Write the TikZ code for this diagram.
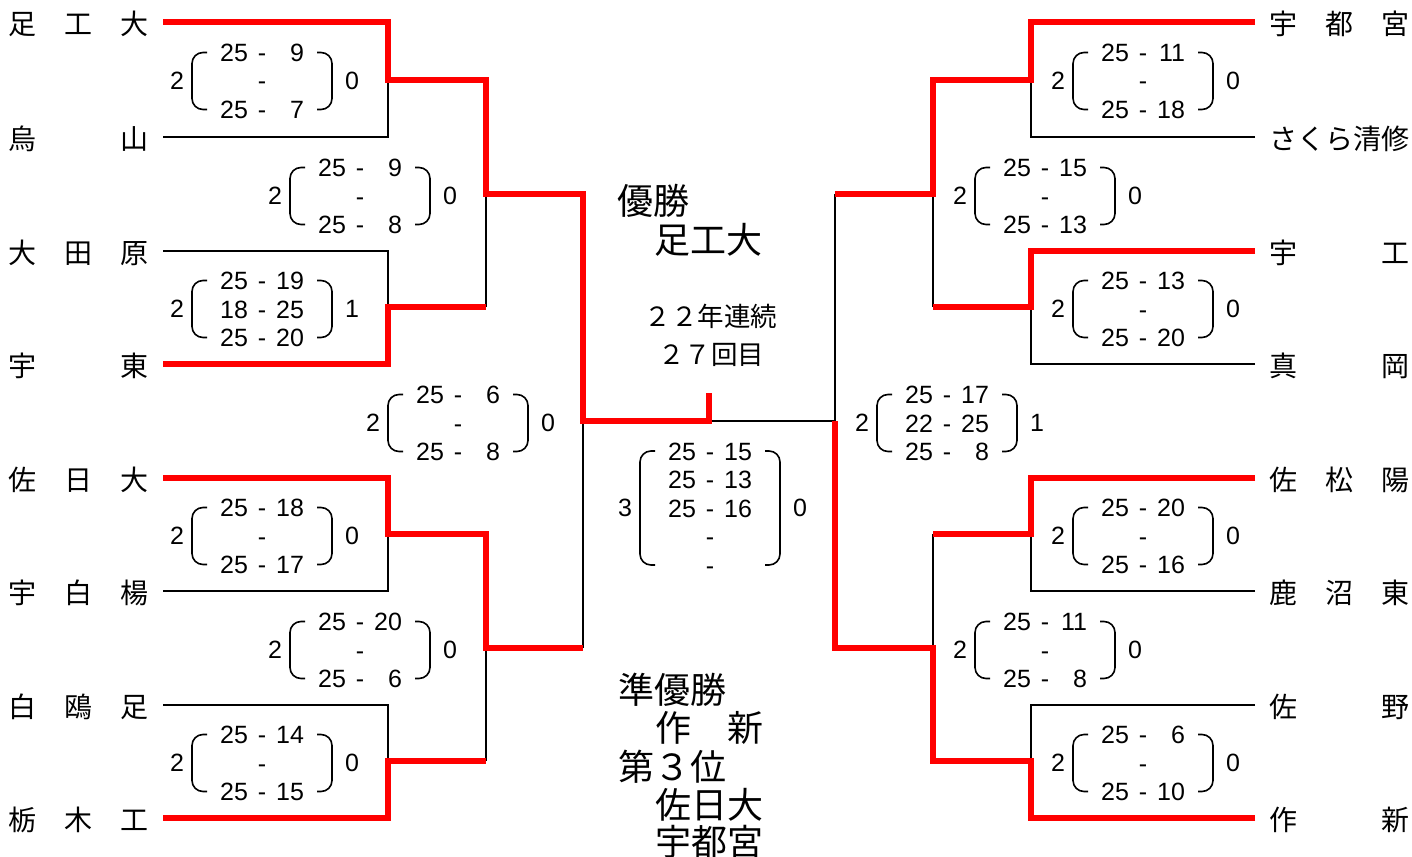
\documentclass[tikz,border=0pt]{standalone}
\usepackage{fontspec}
\setmainfont{Liberation Sans}
\newfontfamily\jp{Noto Sans CJK JP}
\newcommand\srow[2]{\strut\makebox[28pt][r]{#1}\hspace{9.8pt}\makebox[8.4pt]{-}\hspace{9.8pt}\makebox[28pt][r]{#2}}
% #1 name, #2 cx, #3 cy, #4 number of rows, #5 left sets, #6 right sets, #7 rows
\newcommand\scoreblock[7]{%
  \pgfmathsetmacro\hh{(#4-1)*14.25}%
  \node[sc] (#1) at (#2,{#3+3.3}) {#7};
  \node[sc] (#1-l) at ({#2-85},#3) {#5};
  \node[sc] (#1-r) at ({#2+90},#3) {#6};
  \draw[paren] ({#2-55},{#3-\hh}) -- ({#2-70},{#3-\hh}) -- ({#2-70},{#3+\hh}) -- ({#2-55},{#3+\hh});
  \draw[paren] ({#2+55},{#3-\hh}) -- ({#2+70},{#3-\hh}) -- ({#2+70},{#3+\hh}) -- ({#2+55},{#3+\hh});
}
\tikzset{
  win/.style={draw=red, line width=6pt, line join=miter},
  lose/.style={draw=black, line width=2pt},
  paren/.style={draw=black, line width=1.6pt, rounded corners=11pt},
  sc/.style={font=\fontsize{25}{28.5}\selectfont, inner sep=0pt, align=center},
  team/.style={font=\jp\fontsize{28}{28}\selectfont, inner sep=0pt, anchor=west},
  big/.style={font=\jp\fontsize{36}{36}\selectfont, inner sep=0pt, anchor=west},
  mid/.style={font=\jp\fontsize{26.5}{26.5}\selectfont, inner sep=0pt},
}
\begin{document}
\begin{tikzpicture}[x=1pt,y=-1pt]
\useasboundingbox (0,0) rectangle (1412,856);
\fill[white] (0,0) rectangle (1412,856);

% team names left
\node[team] (t1) at (8,24) {足　工　大};
\node[team] (t2) at (8,139) {烏　　　山};
\node[team] (t3) at (8,253) {大　田　原};
\node[team] (t4) at (8,366) {宇　　　東};
\node[team] (t5) at (8,480) {佐　日　大};
\node[team] (t6) at (8,593) {宇　白　楊};
\node[team] (t7) at (8,707) {白　鴎　足};
\node[team] (t8) at (8,820) {栃　木　工};
% team names right
\node[team] (t9) at (1269,24) {宇　都　宮};
\node[team] (t10) at (1269,139) {さくら清修};
\node[team] (t11) at (1269,253) {宇　　　工};
\node[team] (t12) at (1269,366) {真　　　岡};
\node[team] (t13) at (1269,480) {佐　松　陽};
\node[team] (t14) at (1269,593) {鹿　沼　東};
\node[team] (t15) at (1269,707) {佐　　　野};
\node[team] (t16) at (1269,820) {作　　　新};

% losing (black) lines
\draw[lose] (163,137) -- (388,137) -- (388,80);
\draw[lose] (163,251) -- (388,251) -- (388,307);
\draw[lose] (486,194) -- (486,307);
\draw[lose] (163,591) -- (388,591) -- (388,534);
\draw[lose] (163,705) -- (388,705) -- (388,761);
\draw[lose] (486,648) -- (486,761);
\draw[lose] (583,421) -- (583,648);
\draw[lose] (709,421) -- (835,421);
\draw[lose] (1255,137) -- (1031,137) -- (1031,80);
\draw[lose] (1255,364) -- (1031,364) -- (1031,307);
\draw[lose] (933,194) -- (933,307);
\draw[lose] (1255,591) -- (1031,591) -- (1031,534);
\draw[lose] (1255,705) -- (1031,705) -- (1031,761);
\draw[lose] (933,534) -- (933,648);
\draw[lose] (835,194) -- (835,421);

% winning (red) lines
\draw[win] (163,22) -- (388,22) -- (388,80) -- (486,80) -- (486,194) -- (583,194) -- (583,421) -- (709,421) -- (709,393);
\draw[win] (163,364) -- (388,364) -- (388,307) -- (486,307);
\draw[win] (163,478) -- (388,478) -- (388,534) -- (486,534) -- (486,648) -- (583,648);
\draw[win] (163,818) -- (388,818) -- (388,761) -- (486,761);
\draw[win] (1255,22) -- (1031,22) -- (1031,80) -- (933,80) -- (933,194) -- (835,194);
\draw[win] (1255,251) -- (1031,251) -- (1031,307) -- (933,307);
\draw[win] (1255,478) -- (1031,478) -- (1031,534) -- (933,534);
\draw[win] (1255,818) -- (1031,818) -- (1031,761) -- (933,761) -- (933,648) -- (835,648) -- (835,421);

% score blocks left
\scoreblock{b1}{262}{81}{3}{2}{0}{\srow{25}{9}\\\srow{}{}\\\srow{25}{7}}
\scoreblock{b2}{360}{196}{3}{2}{0}{\srow{25}{9}\\\srow{}{}\\\srow{25}{8}}
\scoreblock{b3}{262}{309}{3}{2}{1}{\srow{25}{19}\\\srow{18}{25}\\\srow{25}{20}}
\scoreblock{b4}{458}{423}{3}{2}{0}{\srow{25}{6}\\\srow{}{}\\\srow{25}{8}}
\scoreblock{b5}{262}{536}{3}{2}{0}{\srow{25}{18}\\\srow{}{}\\\srow{25}{17}}
\scoreblock{b6}{360}{650}{3}{2}{0}{\srow{25}{20}\\\srow{}{}\\\srow{25}{6}}
\scoreblock{b7}{262}{763}{3}{2}{0}{\srow{25}{14}\\\srow{}{}\\\srow{25}{15}}
% score blocks right
\scoreblock{r1}{1143}{81}{3}{2}{0}{\srow{25}{11}\\\srow{}{}\\\srow{25}{18}}
\scoreblock{r2}{1045}{196}{3}{2}{0}{\srow{25}{15}\\\srow{}{}\\\srow{25}{13}}
\scoreblock{r3}{1143}{309}{3}{2}{0}{\srow{25}{13}\\\srow{}{}\\\srow{25}{20}}
\scoreblock{r4}{947}{423}{3}{2}{1}{\srow{25}{17}\\\srow{22}{25}\\\srow{25}{8}}
\scoreblock{r5}{1143}{536}{3}{2}{0}{\srow{25}{20}\\\srow{}{}\\\srow{25}{16}}
\scoreblock{r6}{1045}{650}{3}{2}{0}{\srow{25}{11}\\\srow{}{}\\\srow{25}{8}}
\scoreblock{r7}{1143}{763}{3}{2}{0}{\srow{25}{6}\\\srow{}{}\\\srow{25}{10}}
% final
\scoreblock{fin}{710}{508}{5}{3}{0}{\srow{25}{15}\\\srow{25}{13}\\\srow{25}{16}\\\srow{}{}\\\srow{}{}}

% centre texts
\node[big] (yu) at (617,201) {優勝};
\node[big] (yuw) at (654,240) {足工大};
\node[mid] (ren) at (711,316) {２２年連続};
\node[mid] (kai) at (711,355) {２７回目};
\node[big] (jun) at (618,690) {準優勝};
\node[big] (junw) at (655,728) {作　新};
\node[big] (san) at (618,767) {第３位};
\node[big] (san1) at (655,805) {佐日大};
\node[big] (san2) at (655,842) {宇都宮};
\end{tikzpicture}
\end{document}
